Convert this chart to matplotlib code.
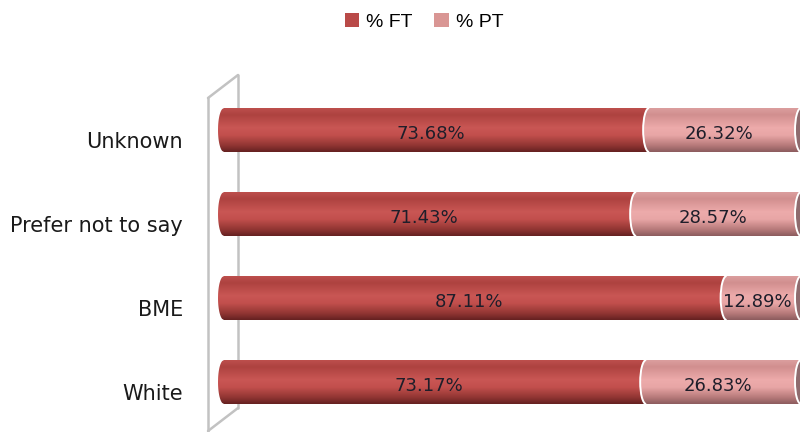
import matplotlib
matplotlib.use("Agg")
import matplotlib.pyplot as plt
import numpy as np
from matplotlib.patches import Ellipse, Arc, Patch
from matplotlib.path import Path

categories = ["Unknown", "Prefer not to say", "BME", "White"]
ft_share = [73.68, 71.43, 87.11, 73.17]
pt_share = [26.32, 28.57, 12.89, 26.83]

ft_color = "#B94A48"
pt_color = "#D99694"

# vertical shading of the cylinders, top -> bottom
ft_stops = [(0.0, (0.74, 0.31, 0.30)), (0.15, (0.68, 0.26, 0.25)),
            (0.45, (0.79, 0.34, 0.33)), (0.62, (0.76, 0.31, 0.30)),
            (0.85, (0.57, 0.21, 0.20)), (1.0, (0.40, 0.13, 0.13))]
pt_stops = [(0.0, (0.86, 0.62, 0.62)), (0.15, (0.82, 0.56, 0.56)),
            (0.45, (0.93, 0.67, 0.67)), (0.62, (0.91, 0.65, 0.65)),
            (0.85, (0.72, 0.48, 0.48)), (1.0, (0.55, 0.36, 0.37))]

px_per_pct = 5.77
x0_px = 224
fig_w, fig_h = 800, 432

fig = plt.figure(figsize=(8, 4.32), dpi=100)
ax = fig.add_axes([0, 0, 1, 1])
row_px = 84
top_px = 130
ax.axis("off")

bar_h = 44 / row_px
b = bar_h / 2
cap = 6 / px_per_pct  # half width of the cylinder end ellipse


def gradient(stops, n=80):
    t = np.linspace(0, 1, n)
    pos = [s[0] for s in stops]
    rgb = np.array([s[1] for s in stops])
    cols = np.stack([np.interp(t, pos, rgb[:, k]) for k in range(3)], axis=1)
    return cols[:, None, :]


def segment(start, end, yc, stops, z):
    t = np.linspace(-1, 1, 40)
    xs = start - cap * np.sqrt(1 - t ** 2)
    ys = yc + b * t
    verts = list(zip(xs, ys)) + [(end, yc + b), (end, yc - b), (xs[0], ys[0])]
    path = Path(verts, closed=True)
    im = ax.imshow(gradient(stops), extent=(start - cap, end, yc + b, yc - b),
                   aspect="auto", origin="upper", interpolation="bilinear", zorder=z)
    im.set_clip_path(path, ax.transData)


def px(x, y):
    return (x - x0_px) / px_per_pct, (y - top_px) / row_px


# back wall
wall_col = "#C2C2C2"
for (xa, ya), (xb, yb) in [((208, 98), (208, 440)), ((208, 98), (238, 75)),
                           ((238, 75), (238, 408)), ((238, 408), (208, 431))]:
    p1, p2 = px(xa, ya), px(xb, yb)
    ax.plot([p1[0], p2[0]], [p1[1], p2[1]], color=wall_col, lw=1.8, zorder=1,
            solid_capstyle="round")

for i, (cat, ft, pt) in enumerate(zip(categories, ft_share, pt_share)):
    segment(0, ft, i, ft_stops, 3)
    segment(ft, ft + pt, i, pt_stops, 4)
    ax.add_patch(Arc((ft, i), 2 * cap, bar_h, theta1=90, theta2=270,
                     color="white", lw=1.4, zorder=5))
    ax.add_patch(Ellipse((ft + pt, i), 2 * cap, bar_h, fc="#8F6B6E",
                         ec="white", lw=1.4, zorder=5))

    ax.text(ft / 2 - cap, i + 0.05, f"{ft:.2f}%", ha="center", va="center",
            fontsize=13, color="#1E1E2A", zorder=6)
    ax.text(ft + pt / 2 - cap, i + 0.05, f"{pt:.2f}%", ha="center", va="center",
            fontsize=13, color="#1E1E2A", zorder=6)
    ax.text(px(183, 0)[0], i + 0.14, cat, ha="right", va="center",
            fontsize=15, color="#1A1A1A")

ax.set_xlim(-x0_px / px_per_pct, (fig_w - x0_px) / px_per_pct)
ax.set_ylim((fig_h - top_px) / row_px, -top_px / row_px)

handles = [Patch(fc=ft_color, ec="none"), Patch(fc=pt_color, ec="none")]
fig.legend(handles, ["% FT", "% PT"], loc="upper center", ncol=2,
           bbox_to_anchor=(0.53, 1.01), frameon=False,
           handlelength=0.75, handleheight=0.75, handletextpad=0.35,
           columnspacing=1.1, prop={"family": "Liberation Sans", "size": 14})

fig.savefig("out.png", dpi=100)
